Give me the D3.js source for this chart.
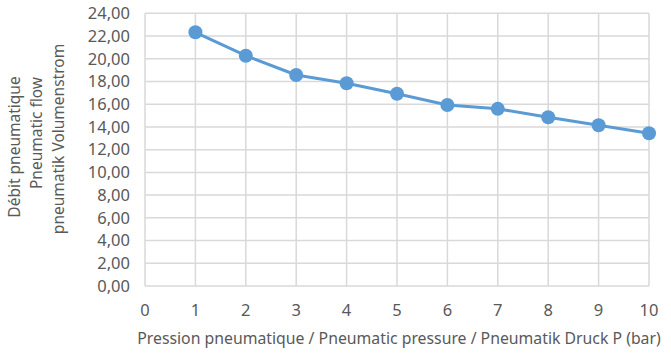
<!DOCTYPE html>
<html><head><meta charset="utf-8">
<script src="https://cdn.jsdelivr.net/npm/d3@7"></script>
<style>body{margin:0;background:#fff;} text{font-family:"Noto Sans",sans-serif;fill:#595959;}</style>
</head><body>
<svg id="c" width="671" height="355"></svg>
<script>
const pressures = [1,2,3,4,5,6,7,8,9,10];
const flows = [22.33,20.27,18.57,17.84,16.92,15.93,15.59,14.85,14.15,13.44];
const yTicks = [0,2,4,6,8,10,12,14,16,18,20,22,24];
const xTicks = [0,1,2,3,4,5,6,7,8,9,10];
const yTitleLines = ["Débit pneumatique","Pneumatic flow","pneumatik Volumenstrom"];
const xTitle = "Pression pneumatique / Pneumatic pressure / Pneumatik Druck P (bar)";

const svg = d3.select("#c");
const x = d3.scaleLinear().domain([0,10]).range([145,649]);
const y = d3.scaleLinear().domain([0,24]).range([286,13.3]);

const grid = svg.append("g");
grid.selectAll("line.h").data(yTicks).join("line")
  .attr("x1",x(0)).attr("x2",x(10)).attr("y1",d=>y(d)).attr("y2",d=>y(d))
  .attr("stroke","#d9d9d9").attr("stroke-width",1.5);
grid.selectAll("line.v").data(xTicks).join("line")
  .attr("y1",y(0)).attr("y2",y(24)).attr("x1",d=>x(d)).attr("x2",d=>x(d))
  .attr("stroke","#d9d9d9").attr("stroke-width",1.5);

const fmt = d => d.toFixed(2).replace(".",",");
svg.append("g").selectAll("text").data(yTicks).join("text")
  .attr("x",130).attr("y",d=>y(d)).attr("dy","0.35em").attr("text-anchor","end")
  .attr("font-size",16.5).text(fmt);
svg.append("g").selectAll("text").data(xTicks).join("text")
  .attr("x",d=>x(d)).attr("y",310).attr("dy","0.35em").attr("text-anchor","middle")
  .attr("font-size",16.5).text(d=>d);

svg.append("text").attr("x",(137+661)/2).attr("y",338).attr("dy","0.35em")
  .attr("text-anchor","middle").attr("font-size",15.8).text(xTitle);

const yCenters = [147,133,139];
const yt = svg.append("g").attr("transform","translate(15,0) rotate(-90)");
yTitleLines.forEach((t,i)=>{
  yt.append("text").attr("x",-yCenters[i]).attr("y",i*22).attr("dy","0.35em")
    .attr("text-anchor","middle").attr("font-size",15.5).text(t);
});

const line = d3.line().x((d,i)=>x(pressures[i])).y(d=>y(d));
svg.append("path").datum(flows).attr("d",line).attr("fill","none")
  .attr("stroke","#5b9bd5").attr("stroke-width",3).attr("stroke-linejoin","round");
svg.append("g").selectAll("circle").data(flows).join("circle")
  .attr("cx",(d,i)=>x(pressures[i])).attr("cy",d=>y(d)).attr("r",7)
  .attr("fill","#5b9bd5");
</script>
</body></html>
